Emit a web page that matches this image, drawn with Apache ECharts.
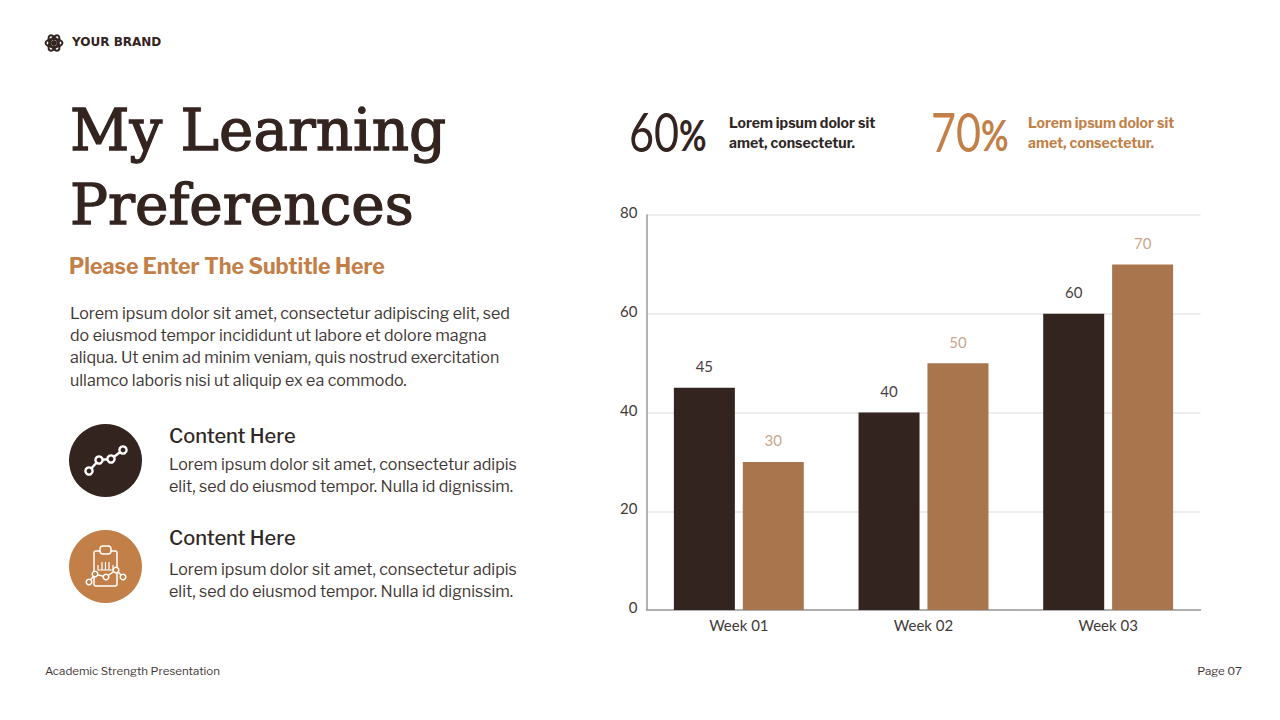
<!DOCTYPE html>
<html>
<head>
<meta charset="utf-8">
<style>
  html, body { margin: 0; padding: 0; background: #fff; }
  #main { width: 1280px; height: 720px; }
</style>
<script src="https://cdn.jsdelivr.net/npm/echarts@6/dist/echarts.min.js"></script>
</head>
<body>
<div id="main"></div>
<script>
// chart data
var weeks = ['Week 01', 'Week 02', 'Week 03'];
var darkValues = [45, 40, 60];
var brownValues = [30, 50, 70];
var yMin = 0, yMax = 80, yStep = 20;

// slide text
var brand = 'YOUR BRAND';
var titleLines = ['My Learning', 'Preferences'];
var subtitle = 'Please Enter The Subtitle Here';
var introLines = [
  'Lorem ipsum dolor sit amet, consectetur adipiscing elit, sed',
  'do eiusmod tempor incididunt ut labore et dolore magna',
  'aliqua. Ut enim ad minim veniam, quis nostrud exercitation',
  'ullamco laboris nisi ut aliquip ex ea commodo.'
];
var contentHead = 'Content Here';
var contentLines = [
  'Lorem ipsum dolor sit amet, consectetur adipis',
  'elit, sed do eiusmod tempor. Nulla id dignissim.'
];
var statLines = ['Lorem ipsum dolor sit', 'amet, consectetur.'];
var footerLeft = 'Academic Strength Presentation';
var footerRight = 'Page 07';

var DARK = '#33241f', BROWN = '#a9754d', ORANGE = '#c27f47', INK = '#3f3735';
var BODY = '"Libre Franklin", "Noto Sans", sans-serif';
var CHART_FONT = 'Lato, sans-serif';

function txt(text, x, y, size, weight, color, family, align) {
  return {
    type: 'text',
    style: {
      text: text, x: x, y: y,
      font: (weight || 'normal') + ' ' + size + 'px ' + (family || BODY),
      fill: color || INK,
      textAlign: align || 'left',
      textVerticalAlign: 'middle'
    }
  };
}

// serif title, thickened with a thin outline
function titleTxt(text, x, y, size) {
  var t = txt(text, x, y, size, 'normal', DARK, '"DejaVu Serif", serif');
  t.style.stroke = DARK;
  t.style.lineWidth = 1.3;
  return t;
}

// big percentage with a smaller % sign, squeezed horizontally
function statTxt(value, x, y, color) {
  var t = txt(value + '{p|%}', 0, 0, 54, 'normal', color, CHART_FONT);
  t.x = x;
  t.y = y;
  t.scaleX = 0.8;
  t.style.rich = {
    p: { font: 'bold 42px ' + CHART_FONT, fill: color, verticalAlign: 'bottom', padding: [0, 0, 3, 0] }
  };
  return t;
}

// small line icons, drawn around a centre point
function nodes(points, r, fill) {
  return points.map(function (p) {
    return { type: 'circle', shape: { cx: p[0], cy: p[1], r: r },
      style: { fill: fill, stroke: '#fff', lineWidth: 2.4 } };
  });
}

var items = [];

// brand mark
[0, 60, 120].forEach(function (deg) {
  items.push({ type: 'ellipse', shape: { cx: 0, cy: 0, rx: 8.5, ry: 4 }, x: 54, y: 43,
    rotation: deg * Math.PI / 180, style: { fill: 'none', stroke: DARK, lineWidth: 2 } });
});
items.push({ type: 'circle', shape: { cx: 54, cy: 43, r: 3 }, style: { fill: DARK } });
items.push(txt(brand, 72, 42, 12, 'bold', DARK, '"DejaVu Sans", sans-serif'));

// left column
items.push(titleTxt(titleLines[0], 70, 130, 58));
items.push(titleTxt(titleLines[1], 70, 204, 56.5));
items.push(txt(subtitle, 69, 265.5, 21.4, 'bold', ORANGE));
introLines.forEach(function (line, i) {
  items.push(txt(line, 70, 313 + i * 22.4, 16.05, 'normal', INK));
});

// content rows
var chartIconPts = [[89, 471], [99, 460], [111, 459], [123, 450]];
items.push({ type: 'circle', shape: { cx: 105.5, cy: 460.5, r: 36.5 }, style: { fill: DARK } });
items.push({ type: 'polyline', shape: { points: chartIconPts },
  style: { fill: 'none', stroke: '#fff', lineWidth: 2.4 } });
nodes(chartIconPts, 3.6, DARK).forEach(function (n) { items.push(n); });

var boardIconPts = [[89, 582], [95, 574], [106, 577], [116, 570], [123, 577]];
items.push({ type: 'circle', shape: { cx: 105.5, cy: 566.5, r: 36.5 }, style: { fill: ORANGE } });
items.push({ type: 'rect', shape: { x: 94, y: 551, width: 23, height: 35, r: 2 },
  style: { fill: 'none', stroke: '#fff', lineWidth: 1.5 } });
items.push({ type: 'rect', shape: { x: 100, y: 546, width: 11, height: 8, r: 3 },
  style: { fill: ORANGE, stroke: '#fff', lineWidth: 1.5 } });
items.push({ type: 'polyline', shape: { points: [[98, 565], [98, 570], [113, 570], [113, 565]] },
  style: { fill: 'none', stroke: '#fff', lineWidth: 1.2 } });
[102, 105.5, 109].forEach(function (bx) {
  items.push({ type: 'line', shape: { x1: bx, y1: 562, x2: bx, y2: 570 },
    style: { stroke: '#fff', lineWidth: 1.2 } });
});
items.push({ type: 'polyline', shape: { points: boardIconPts },
  style: { fill: 'none', stroke: '#fff', lineWidth: 1.5 } });
nodes(boardIconPts, 2.8, ORANGE).forEach(function (n) { n.style.lineWidth = 1.5; items.push(n); });

[[436, 464], [538, 569]].forEach(function (row) {
  items.push(txt(contentHead, 169, row[0], 20, '500', '#2f2725'));
  contentLines.forEach(function (line, i) {
    items.push(txt(line, 169, row[1] + i * 22.8, 16.05, 'normal', INK));
  });
});

// stats
items.push(statTxt('60', 629, 131, DARK));
items.push(statTxt('70', 931, 131, ORANGE));
statLines.forEach(function (line, i) {
  items.push(txt(line, 729, 122.5 + i * 20, 14.1, 'bold', '#2f2725'));
  items.push(txt(line, 1028, 122.5 + i * 20, 14.1, 'bold', ORANGE));
});

// footer
items.push(txt(footerLeft, 45, 670.5, 11.5, 'normal', INK));
items.push(txt(footerRight, 1242, 670.5, 11.5, 'normal', INK, BODY, 'right'));

var chart = echarts.init(document.getElementById('main'), null, { renderer: 'svg' });
chart.setOption({
  animation: false,
  backgroundColor: '#fff',
  grid: { left: 646.5, top: 215, width: 554, height: 395 },
  xAxis: {
    type: 'category',
    data: weeks,
    axisLine: { lineStyle: { color: '#9a9a9a', width: 1.5 } },
    axisTick: { show: false },
    axisLabel: { color: '#3f3a38', fontSize: 15, fontFamily: CHART_FONT, margin: 7 }
  },
  yAxis: {
    type: 'value',
    min: yMin, max: yMax, interval: yStep,
    axisLine: { show: true, lineStyle: { color: '#9a9a9a', width: 1.5 } },
    axisTick: { show: false },
    axisLabel: { color: '#3f3a38', fontSize: 15, fontFamily: CHART_FONT, margin: 9, verticalAlign: 'bottom', lineHeight: 6 },
    splitLine: { lineStyle: { color: '#e9e6e6', width: 1.5 } }
  },
  series: [
    {
      type: 'bar', data: darkValues, barWidth: 61, barGap: '13%',
      itemStyle: { color: DARK },
      label: { show: true, position: 'top', distance: 14, color: '#4a4240', fontSize: 15, fontFamily: CHART_FONT }
    },
    {
      type: 'bar', data: brownValues, barWidth: 61,
      itemStyle: { color: BROWN },
      label: { show: true, position: 'top', distance: 14, color: '#c9a68c', fontSize: 15, fontFamily: CHART_FONT }
    }
  ],
  graphic: { elements: items }
});
</script>
</body>
</html>
